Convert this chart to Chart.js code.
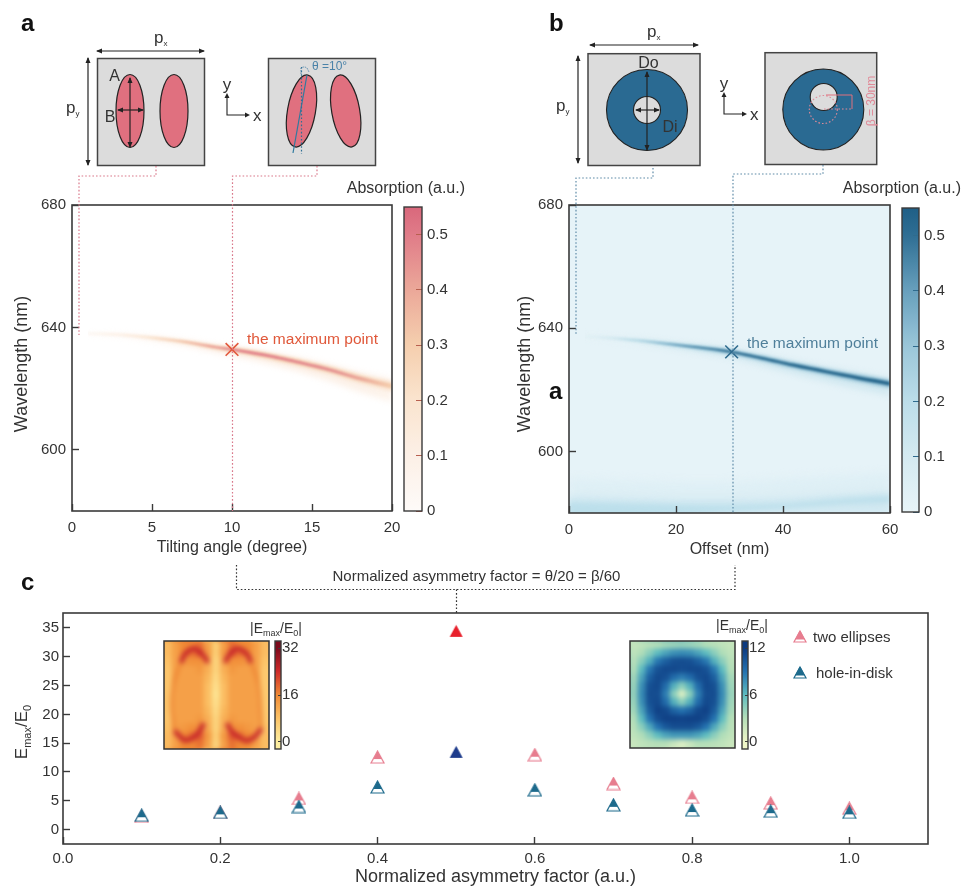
<!DOCTYPE html>
<html>
<head>
<meta charset="utf-8">
<title>Absorption and field enhancement</title>
<script src="https://cdn.jsdelivr.net/npm/chart.js@4"></script>
<style>
html,body{margin:0;padding:0;background:#fff;}
#page{position:relative;width:961px;height:887px;overflow:hidden;font-family:"Liberation Sans",Arial,sans-serif;}
#page canvas{position:absolute;}
.inset{position:absolute;overflow:hidden;}
#overlay{position:absolute;left:0;top:0;z-index:5;pointer-events:none;}
#overlay text{font-family:"Liberation Sans",Arial,sans-serif;fill:#333;}
</style>
</head>
<body>
<div id="page"></div>
<script>
/* ---- data ---- */
// panel a: ridge of the absorption map
const tiltAngle = [1,3,5,7,9,10,12,14,16,18,20];
const tiltWave  = [638,637.6,636.6,635.3,633.5,632.8,631,628.8,626.3,623.3,620.8];
const tiltAbs   = [0.05,0.12,0.22,0.34,0.44,0.5,0.5,0.48,0.46,0.4,0.3];
const tiltCore  = [0.15,0.2,0.25,0.3,0.35,0.4,0.45,0.5,0.55,0.65,0.8];
const tiltHalo  = [0.3,0.5,0.8,1,1.3,1.5,1.9,2.3,2.8,3.4,4];
const tiltMax   = [{x:10,y:632.8}];

// panel b: ridge of the absorption map
const offsetNm   = [3,8,13,18,24,30,36,42,48,54,60];
const offsetWave = [637.3,636.8,636,635,633.8,632.4,630.3,628,625.9,623.9,622];
const offsetAbs  = [0.04,0.12,0.24,0.36,0.46,0.52,0.52,0.52,0.52,0.52,0.52];
const offsetCore = [0.15,0.2,0.25,0.3,0.35,0.4,0.45,0.5,0.55,0.6,0.65];
const offsetHalo = [0.3,0.5,0.8,1,1.3,1.5,1.9,2.2,2.5,2.8,3];
const offsetMax  = [{x:30.4,y:632.3}];

// panel b: pale band along the bottom
const bandNm    = [0,10,20,30,40,50,60];
const bandOuter = [591,590.5,590,590,591,592,593];
const bandMid   = [585.5,585,584.5,584.5,585,586,587];
const bandHigh  = [583.5,583.2,582.8,582.5,583,584.5,585.5];
const bandLow   = [579,579,579.5,580.5,581.5,582.8,583.5];

// panel c
const asymFactor  = [0.1,0.2,0.3,0.4,0.5,0.6,0.7,0.8,0.9,1.0];
const twoEllipses = [2.3,3,5.4,12.6,34.5,13,8,5.6,4.6,3.7];
const holeInDisk  = [2.5,3,4,7.4,13.5,6.9,4.3,3.4,3.2,3];
const peakIndex   = 4;

// tick labels
const tickWave = [600,640,680];
const tickTilt = [0,5,10,15,20];
const tickOffset = [0,20,40,60];
const tickAbs = [0,0.1,0.2,0.3,0.4,0.5];
const tickAsym = [0,0.2,0.4,0.6,0.8,1];
const tickField = [0,5,10,15,20,25,30,35];
const tickFieldA = [0,16,32];
const tickFieldB = [0,6,12];

// colour maps
const absLevels = [0,0.1,0.2,0.3,0.4,0.5,0.55];
const absRed    = ["#fefbf9","#fcf0e6","#fae4cf","#f5cfae","#eba899","#e07c88","#d9687c"];
const absBlue   = ["#e8f4f8","#d4eaf1","#bcdde9","#9ac6d9","#68a0bd","#2f6f94","#1f5f86"];
const fieldLevelsA = [0,8,16,24,32];
const fieldColorsA = ["#fdeea0","#fcc468","#f08a35","#cf2a2a","#7d0a1c"];
const fieldLevelsB = [0,3,6,9,12];
const fieldColorsB = ["#eef5c8","#b6dfb8","#5ebcc0","#2472b0","#0d3a80"];

// inset field maps, 13x13, top row first
const fieldMapA = [
 [9,13,16,16,18,13,6,13,18,16,16,13,9],
 [9,13,16,18,20,14,6,14,20,18,16,13,9],
 [8,13,14,15,15,12,5,12,15,15,14,13,8],
 [7,13,13,13,14,11,5,11,14,13,13,13,7],
 [7,13,13,13,13,10,4,10,13,13,13,13,7],
 [7,13,13,13,13,9,3,9,13,13,13,13,7],
 [7,13,13,13,13,9,2,9,13,13,13,13,7],
 [7,13,13,13,13,9,3,9,13,13,13,13,7],
 [7,13,13,13,13,10,4,10,13,13,13,13,7],
 [7,13,13,13,14,11,5,11,14,13,13,13,7],
 [8,13,14,15,15,12,5,12,15,15,14,13,8],
 [9,13,16,18,20,14,6,14,20,18,16,13,9],
 [9,13,16,16,18,13,5,13,18,16,16,13,9]
];
const fieldMapB = [
 [2.2,2.5,2.8,3,3.5,3.8,4,3.8,3.5,3,2.8,2.5,2.2],
 [2.5,3.2,4.5,6,7,7.8,8,7.8,7,6,4.5,3.2,2.5],
 [2.8,4.5,6.5,8.8,10,10.8,11,10.8,10,8.8,6.5,4.5,2.8],
 [3,6,8.8,10.7,11.2,11.2,11,11.2,11.2,10.7,8.8,6,3],
 [3.5,7,10,11.2,10.8,9.3,8.5,9.3,10.8,11.2,10,7,3.5],
 [3.8,7.8,10.8,11.2,9.3,6.5,4.5,6.5,9.3,11.2,10.8,7.8,3.8],
 [4,8,11,11,8.5,4.5,1,4.5,8.5,11,11,8,4],
 [3.8,7.8,10.8,11.2,9.3,6.5,4.5,6.5,9.3,11.2,10.8,7.8,3.8],
 [3.5,7,10.2,11.6,11.2,9.8,9,9.8,11.2,11.6,10.2,7,3.5],
 [3,6,9,11,11.6,11.6,11.5,11.6,11.6,11,9,6,3],
 [2.8,4.5,6.8,9,10.4,11,11,11,10.4,9,6.8,4.5,2.8],
 [2.5,3.2,4.5,6,7,7.5,7.5,7.5,7,6,4.5,3.2,2.5],
 [2,2.5,2.8,3,3,2,1,2,3,3,2.8,2.5,2]
];
// arcs in the two-ellipse map (x, y across the inset, 0 to 1)
const arcTopLeft  = [{x:0.16,y:0.8},{x:0.21,y:0.89},{x:0.29,y:0.93},{x:0.37,y:0.87},{x:0.42,y:0.8}];
const arcTopRight = [{x:0.58,y:0.8},{x:0.625,y:0.875},{x:0.695,y:0.93},{x:0.785,y:0.885},{x:0.83,y:0.8}];
const arcLowLeft  = [{x:0.1,y:0.17},{x:0.19,y:0.085},{x:0.27,y:0.1},{x:0.34,y:0.17},{x:0.38,y:0.24}];
const arcLowRight = [{x:0.6,y:0.24},{x:0.64,y:0.17},{x:0.77,y:0.08},{x:0.85,y:0.1},{x:0.93,y:0.19}];
const arcSideLeft  = [{x:0.16,y:0.8},{x:0.09,y:0.6},{x:0.07,y:0.4},{x:0.1,y:0.17}];
const arcSideRight = [{x:0.83,y:0.8},{x:0.9,y:0.6},{x:0.92,y:0.4},{x:0.93,y:0.19}];

/* ---- helpers ---- */
const FONT = "'Liberation Sans', Arial, sans-serif";
const INK = "#3a3a3a";
Chart.defaults.font.family = FONT;
Chart.defaults.color = "#333";

function hex(c){ return [1,3,5].map(i=>parseInt(c.substr(i,2),16)); }
function colorAt(levels,colors,v){
  if(v<=levels[0]) return colors[0];
  for(let i=1;i<levels.length;i++){
    if(v<=levels[i]){
      const t=(v-levels[i-1])/(levels[i]-levels[i-1]), a=hex(colors[i-1]), b=hex(colors[i]);
      return "rgb("+a.map((p,k)=>Math.round(p+(b[k]-p)*t)).join(",")+")";
    }
  }
  return colors[colors.length-1];
}
function pts(xs,ys){ return xs.map((x,i)=>({x:x,y:ys[i]})); }

// colour running along a ridge, in scale pixels
function alongX(xs,vals,levels,colors){
  return c=>{
    const sx=c.chart.scales.x;
    if(!sx||!c.chart.chartArea) return colors[2];
    const g=c.chart.ctx.createLinearGradient(sx.left,0,sx.right,0);
    xs.forEach((x,i)=>g.addColorStop((x-sx.min)/(sx.max-sx.min),colorAt(levels,colors,vals[i])));
    return g;
  };
}
// colour bar fill, in scale pixels
function alongY(levels,colors){
  return c=>{
    const sy=c.chart.scales.y;
    if(!sy||!c.chart.chartArea) return colors[0];
    const g=c.chart.ctx.createLinearGradient(0,sy.bottom,0,sy.top);
    const range=sy.max-sy.min;
    for(let i=0;i<=40;i++){
      const v=sy.min+range*i/40;
      g.addColorStop(i/40,colorAt(levels,colors,v));
    }
    return g;
  };
}
// band between two curves, soft edge through dataset.blur
function band(upper,lower,color,blur){
  return [
    {data:upper,fill:"+1",backgroundColor:color,borderWidth:0,pointRadius:0,blur:blur},
    {data:lower,fill:false,borderWidth:0,pointRadius:0,blur:blur}
  ];
}

// the filler draws before a dataset's own hook, so each dataset sets the filter for the next one drawn
const softEdges = {
  id:"softEdges",
  beforeDatasetsDraw(chart){
    const ds=chart.data.datasets, last=ds[ds.length-1];
    chart.ctx.filter=last.blur?"blur("+last.blur+"px)":"none";
  },
  afterDatasetDraw(chart,args){
    const next=chart.data.datasets[args.index-1];
    chart.ctx.filter=next&&next.blur?"blur("+next.blur+"px)":"none";
  },
  afterDatasetsDraw(chart){ chart.ctx.filter="none"; }
};
// plot background + frame
const frame = {
  id:"frame",
  beforeDraw(chart,args,o){
    if(o.bg){ const a=chart.chartArea; chart.ctx.fillStyle=o.bg; chart.ctx.fillRect(a.left,a.top,a.right-a.left,a.bottom-a.top); }
  },
  afterDraw(chart,args,o){
    const a=chart.chartArea,ctx=chart.ctx;
    ctx.save(); ctx.strokeStyle=INK; ctx.lineWidth=o.width||1.6;
    ctx.strokeRect(a.left,a.top,a.right-a.left,a.bottom-a.top); ctx.restore();
  }
};

function linAxis(o){
  return {
    type:"linear",position:o.pos,min:o.min,max:o.max,
    afterBuildTicks:s=>{ s.ticks=o.ticks.map(v=>({value:v})); },
    afterFit:s=>{
      if(o.w!==undefined) s.width=o.w;
      if(o.h!==undefined) s.height=o.h;
      // plot box is placed by hand, no room for label overhang
      s.paddingLeft=s.paddingRight=s.paddingTop=s.paddingBottom=0;
    },
    border:{display:false},
    grid:{drawOnChartArea:false,drawTicks:true,tickLength:-(o.tick||7),tickWidth:o.tickW||1.4,tickColor:o.tickColor||INK,z:1},
    ticks:{maxRotation:0,autoSkip:false,padding:o.pad,font:{size:o.size||15},color:"#333",callback:o.fmt||(v=>String(v))},
    title:o.title?{display:true,text:o.title,font:{size:o.tsize||16},color:"#333",padding:{top:4,bottom:4}}:{display:false}
  };
}
// canvas laid out so the plot area lands on box {l,t,r,b}
function place(box,m,config){
  const c=document.createElement("canvas");
  const w=m.l+(box.r-box.l)+m.r, h=m.t+(box.b-box.t)+m.b;
  c.width=w; c.height=h;
  c.style.left=(box.l-m.l)+"px"; c.style.top=(box.t-m.t)+"px";
  document.getElementById("page").appendChild(c);
  const padR=m.axisRight?0:m.r, padL=m.barLeft?m.l:0, padB=m.barLeft?m.b:0;
  config.options=Object.assign({responsive:false,animation:false,events:[],
    layout:{autoPadding:false,padding:{top:m.t,right:padR,left:padL,bottom:padB}}},config.options);
  return new Chart(c,config);
}
function mapChart(box,m,xOpt,yOpt,datasets,bg){
  return place(box,m,{type:"line",data:{datasets:datasets},plugins:[softEdges,frame],options:{
    plugins:{legend:{display:false},tooltip:{enabled:false},frame:{bg:bg}},
    elements:{line:{tension:0.3}},
    scales:{x:linAxis(xOpt),y:linAxis(yOpt)}
  }});
}
function colorBar(box,m,levels,colors,min,max,ticks,fmt,tickLen,pad,size,tickColor){
  const mm=Object.assign({axisRight:true,barLeft:true},m);
  return place(box,mm,{type:"bar",data:{labels:[""],datasets:[{data:[[min,max]],backgroundColor:alongY(levels,colors),categoryPercentage:1,barPercentage:1}]},plugins:[frame],options:{
    plugins:{legend:{display:false},tooltip:{enabled:false},frame:{width:1.4}},
    scales:{x:{display:false},y:linAxis({pos:"right",min:min,max:max,ticks:ticks,w:m.r,pad:pad,fmt:fmt,tick:tickLen,size:size,tickColor:tickColor,tickW:1})}
  }});
}
function ridgeSets(xs,wave,abs,core,halo,levels,colors,maxPt,markColor){
  const c1=alongX(xs,abs,levels,colors);
  const c2=alongX(xs,abs.map(v=>v*0.55),levels,colors);
  const c3=alongX(xs,abs.map(v=>v*0.22),levels,colors);
  return [
    {data:maxPt,showLine:false,pointStyle:"crossRot",pointRadius:9,pointBorderWidth:1.6,pointBorderColor:markColor,pointBackgroundColor:"transparent"},
    ...band(pts(xs,wave.map((w,i)=>w+core[i])),pts(xs,wave.map((w,i)=>w-core[i])),c1,0.8),
    ...band(pts(xs,wave.map((w,i)=>w+core[i]*2.2)),pts(xs,wave.map((w,i)=>w-core[i]*2.4)),c2,1.5),
    ...band(pts(xs,wave.map((w,i)=>w+halo[i]*0.6)),pts(xs,wave.map((w,i)=>w-halo[i]*1.3)),c3,3)
  ];
}
const fmtAbs = v=>v===0?"0":v.toFixed(1);

/* ---- panel a ---- */
mapChart({l:72,t:205,r:392,b:511},{l:64,t:12,r:14,b:50},
  {pos:"bottom",min:0,max:20,ticks:tickTilt,h:50,pad:15,title:"Tilting angle (degree)"},
  {pos:"left",min:580,max:680,ticks:tickWave,w:64,pad:13},
  ridgeSets(tiltAngle,tiltWave,tiltAbs,tiltCore,tiltHalo,absLevels,absRed,tiltMax,"#e2583c"),"#ffffff");
colorBar({l:404,t:207,r:422,b:511},{l:2,t:10,r:40,b:10},absLevels,absRed,0,0.55,tickAbs,fmtAbs,6,11,15,"#b8604f");

/* ---- panel b ---- */
mapChart({l:569,t:205,r:890,b:513},{l:58,t:12,r:10,b:50},
  {pos:"bottom",min:0,max:60,ticks:tickOffset,h:50,pad:15,title:"Offset (nm)"},
  {pos:"left",min:580,max:680,ticks:tickWave,w:58,pad:13},
  [...ridgeSets(offsetNm,offsetWave,offsetAbs,offsetCore,offsetHalo,absLevels,absBlue,offsetMax,"#2f6b8e"),
   ...band(pts(bandNm,bandHigh),pts(bandNm,bandLow),"#bcdfeb",2.5),
   {data:pts(bandNm,bandMid),fill:"start",backgroundColor:"#d0e8f1",borderWidth:0,pointRadius:0,blur:3},
   {data:pts(bandNm,bandOuter),fill:"start",backgroundColor:"#deeff5",borderWidth:0,pointRadius:0,blur:4}],
  "#e6f3f8");
colorBar({l:902,t:208,r:919,b:512},{l:2,t:10,r:40,b:10},absLevels,absBlue,0,0.55,tickAbs,fmtAbs,6,11,15,"#2f6b8e");

/* ---- panel c ---- */
function triangleIcon(color,solid){
  const c=document.createElement("canvas"); c.width=15; c.height=14;
  const x=c.getContext("2d");
  x.beginPath(); x.moveTo(7.5,1); x.lineTo(14,13); x.lineTo(1,13); x.closePath();
  x.fillStyle=solid?color:"#ffffff"; x.fill();
  if(!solid){
    x.save(); x.clip(); x.fillStyle=color; x.fillRect(0,0,15,9); x.restore();
    x.strokeStyle=color; x.lineWidth=1.2; x.stroke();
  }
  return c;
}
const PINK="#e77d8f", BLUE="#1d6a8c";
const pinkIcon=triangleIcon(PINK,false), blueIcon=triangleIcon(BLUE,false);
const redIcon=triangleIcon("#e8202c",true), navyIcon=triangleIcon("#1e3c8c",true);
const scatterSet=(ys,icon,peak)=>({
  data:pts(asymFactor,ys),showLine:false,
  pointStyle:c=>c.dataIndex===peakIndex?peak:icon,pointRadius:7
});
place({l:63,t:613,r:928,b:844},{l:50,t:12,r:20,b:48},{type:"line",
  data:{datasets:[scatterSet(holeInDisk,blueIcon,navyIcon),scatterSet(twoEllipses,pinkIcon,redIcon)]},
  plugins:[frame],
  options:{
    plugins:{legend:{display:false},tooltip:{enabled:false}},
    scales:{
      x:linAxis({pos:"bottom",min:0,max:1.1,ticks:tickAsym,h:48,pad:13,title:"Normalized asymmetry factor (a.u.)",tsize:18,fmt:v=>v.toFixed(1)}),
      y:linAxis({pos:"left",min:-2.5,max:37.6,ticks:tickField,w:50,pad:11})
    }
  }
});

// inset maps, soft canvas inside a clipped box
function insetMap(box,matrix,levels,colors,lines){
  const W=box.r-box.l,H=box.b-box.t,bleed=10,n=matrix.length;
  const div=document.createElement("div"); div.className="inset";
  div.style.cssText="left:"+box.l+"px;top:"+box.t+"px;width:"+W+"px;height:"+H+"px;z-index:2;";
  document.getElementById("page").appendChild(div);
  const c=document.createElement("canvas");
  c.width=W+2*bleed; c.height=H+2*bleed;
  c.style.cssText="left:"+(-bleed)+"px;top:"+(-bleed)+"px;filter:blur(2.5px);";
  div.appendChild(c);
  const cells=[];
  matrix.forEach((row,j)=>row.forEach((v,i)=>cells.push({x:(i+0.5)/n,y:1-(j+0.5)/n,v:v})));
  const half=Math.max(W,H)/n/2+0.6;
  const cellColor=p=>colorAt(levels,colors,p.raw.v);
  new Chart(c,{type:"scatter",data:{datasets:[
    ...lines,
    {data:cells,pointStyle:"rect",pointRadius:half*Math.SQRT2,pointBackgroundColor:cellColor,pointBorderWidth:0},
    {data:cells,pointStyle:"rect",pointRadius:(half+bleed)*Math.SQRT2,pointBackgroundColor:cellColor,pointBorderWidth:0}
  ]},options:{responsive:false,animation:false,events:[],
    layout:{autoPadding:false,padding:0},
    plugins:{legend:{display:false},tooltip:{enabled:false}},
    scales:{
      x:{display:false,min:-bleed/W,max:1+bleed/W},
      y:{display:false,min:-bleed/H,max:1+bleed/H}
    }
  }});
}
const arcSet=(data,color,width)=>({data:data,showLine:true,tension:0.4,borderColor:color,borderWidth:width,pointRadius:0});
insetMap({l:164,t:641,r:269,b:749},fieldMapA,fieldLevelsA,fieldColorsA,[
  arcSet(arcTopLeft,"#c4202a",4.5),arcSet(arcTopRight,"#c4202a",4.5),
  arcSet(arcLowLeft,"#c4202a",4.5),arcSet(arcLowRight,"#c4202a",4.5),
  arcSet(arcSideLeft,"#ec7f30",2.5),arcSet(arcSideRight,"#ec7f30",2.5)
]);
insetMap({l:630,t:641,r:735,b:748},fieldMapB,fieldLevelsB,fieldColorsB,[]);
function zBar(ch){ ch.canvas.style.zIndex=3; }
zBar(colorBar({l:275,t:641,r:281,b:749},{l:2,t:4,r:30,b:4},fieldLevelsA,fieldColorsA,-2.4,34.4,tickFieldA,String,3,4,15));
zBar(colorBar({l:742,t:641,r:748,b:749},{l:2,t:4,r:30,b:4},fieldLevelsB,fieldColorsB,-0.9,12.9,tickFieldB,String,3,4,15));

/* ---- labels and schematics, page overlay ---- */
const SVG_NS="http://www.w3.org/2000/svg";
const RED_DOT="#d9788a", BLUE_DOT="#5f8ca8";
const sub=(a,b,size)=>`${a}<tspan dy="3" font-size="${size}">${b}</tspan>`;
const arrowLine=(x1,y1,x2,y2)=>`<line x1="${x1}" y1="${y1}" x2="${x2}" y2="${y2}" stroke="#222" stroke-width="1.2" marker-start="url(#ah)" marker-end="url(#ah)"/>`;
const dotted=(d,color)=>`<path d="${d}" fill="none" stroke="${color}" stroke-width="1.2" stroke-dasharray="1.6 2"/>`;
const axesXY=(x,y)=>`<path d="M${x} ${y-19}V${y}H${x+20}" fill="none" stroke="#222" stroke-width="1.1"/>
  <path d="M${x} ${y-22}l-2.5 5h5z M${x+23} ${y}l-5 -2.5v5z" fill="#222"/>
  <text x="${x}" y="${y-25}" text-anchor="middle" font-size="17">y</text>
  <text x="${x+26}" y="${y+6}" font-size="17">x</text>`;
const legendTri=(x,y,c)=>`<path d="M${x} ${y-6}L${x+6} ${y+5}H${x-6}Z" fill="#fff" stroke="${c}" stroke-width="1.2"/><path d="M${x} ${y-6}L${x+3.6} ${y+1}H${x-3.6}Z M${x-3.6} ${y+1}H${x+3.6}L${x+4.2} ${y+2}H${x-4.2}Z" fill="${c}" stroke="${c}" stroke-width="1"/>`;

const overlay=document.createElementNS(SVG_NS,"svg");
overlay.setAttribute("id","overlay");
overlay.setAttribute("width","961"); overlay.setAttribute("height","887");
overlay.innerHTML=`
<defs><marker id="ah" viewBox="0 0 6 6" refX="5" refY="3" markerWidth="5" markerHeight="5" orient="auto-start-reverse"><path d="M0 0.5L6 3L0 5.5z" fill="#222"/></marker></defs>

<text x="21" y="31" font-size="24" font-weight="bold" style="fill:#111">a</text>
<text x="549" y="31" font-size="24" font-weight="bold" style="fill:#111">b</text>
<text x="21" y="590" font-size="24" font-weight="bold" style="fill:#111">c</text>
<text x="549" y="399" font-size="24" font-weight="bold" style="fill:#111">a</text>

<text transform="rotate(-90 27 364)" x="27" y="364" text-anchor="middle" font-size="18">Wavelength (nm)</text>
<text transform="rotate(-90 530 364)" x="530" y="364" text-anchor="middle" font-size="18">Wavelength (nm)</text>

<!-- a, schematics -->
<rect x="97.5" y="58.5" width="107" height="107" fill="#dcdcdc" stroke="#444" stroke-width="1.5"/>
<ellipse cx="130" cy="111" rx="14" ry="36.5" fill="#e0707f" stroke="#222" stroke-width="1.2"/>
<ellipse cx="174" cy="111" rx="14" ry="36.5" fill="#e0707f" stroke="#222" stroke-width="1.2"/>
${arrowLine(130,78,130,147)}${arrowLine(118,110,143,110)}
<text x="114.5" y="81" text-anchor="middle" font-size="16">A</text>
<text x="110" y="122" text-anchor="middle" font-size="16">B</text>
${arrowLine(97,51,204,51)}${arrowLine(88,58,88,165)}
<text x="154" y="43" font-size="17">${sub("p","x",8)}</text>
<text x="66" y="113" font-size="17">${sub("p","y",8)}</text>
${axesXY(227,115)}
<rect x="268.5" y="58.5" width="107" height="107" fill="#dcdcdc" stroke="#444" stroke-width="1.5"/>
<ellipse cx="301.5" cy="111" rx="14" ry="36.5" fill="#e0707f" stroke="#222" stroke-width="1.2" transform="rotate(10 301.5 111)"/>
<ellipse cx="345.7" cy="111" rx="14" ry="36.5" fill="#e0707f" stroke="#222" stroke-width="1.2" transform="rotate(-10 345.7 111)"/>
<line x1="307" y1="75" x2="293" y2="153" stroke="#2f7a9f" stroke-width="1.2"/>
${dotted("M301.5 67V154","#2f6f94")}
<path d="M301 74V68q3 -2 6 0 l2 4" fill="none" stroke="#4a82a8" stroke-width="0.9" stroke-dasharray="1.5 1"/>
<text x="312" y="70" font-size="12" style="fill:#4a82a8">θ =10°</text>
${dotted("M156 166V176H79V335",RED_DOT)}
${dotted("M317 166V176H232.5V511",RED_DOT)}
<text x="465" y="193" text-anchor="end" font-size="16">Absorption (a.u.)</text>
<text x="247" y="344" font-size="15.5" style="fill:#e0583a">the maximum point</text>

<!-- b, schematics -->
<rect x="588" y="53.7" width="112" height="111.8" fill="#dcdcdc" stroke="#444" stroke-width="1.5"/>
<circle cx="647" cy="110" r="40.5" fill="#2a6a92" stroke="#222" stroke-width="1.1"/>
<circle cx="647" cy="110" r="13.5" fill="#dcdcdc" stroke="#222" stroke-width="1.1"/>
${arrowLine(647,72,647,150)}${arrowLine(636,110,659,110)}
<text x="648.5" y="68" text-anchor="middle" font-size="16">Do</text>
<text x="670" y="132" text-anchor="middle" font-size="16">Di</text>
${arrowLine(590,45,698,45)}${arrowLine(578,56,578,163)}
<text x="647" y="37" font-size="17">${sub("p","x",8)}</text>
<text x="556" y="111" font-size="17">${sub("p","y",8)}</text>
${axesXY(724,114)}
<rect x="765" y="52.7" width="111.7" height="111.8" fill="#dcdcdc" stroke="#444" stroke-width="1.5"/>
<circle cx="823.3" cy="109.5" r="40.5" fill="#2a6a92" stroke="#222" stroke-width="1.1"/>
<circle cx="823.7" cy="97" r="13.5" fill="#dcdcdc" stroke="#222" stroke-width="1.1"/>
<circle cx="823.3" cy="109.5" r="14" fill="none" stroke="#e08a98" stroke-width="1.1" stroke-dasharray="1.6 2"/>
<path d="M826 95H852V109" fill="none" stroke="#e0707f" stroke-width="1"/>
${dotted("M824 109H851","#e08a98")}
<text x="875" y="101" text-anchor="middle" font-size="12" transform="rotate(-90 875 101)" style="fill:#e08a98">β = 30nm</text>
${dotted("M653 168V178H576V335",BLUE_DOT)}
${dotted("M823 165V174H733V513",BLUE_DOT)}
<text x="961" y="193" text-anchor="end" font-size="16">Absorption (a.u.)</text>
<text x="747" y="348" font-size="15.5" style="fill:#4f7f9a">the maximum point</text>

<!-- c -->
${dotted("M236.5 565V589.5H735V565","#333")}
${dotted("M456.5 589.5V613","#333")}
<text x="476.5" y="581" text-anchor="middle" font-size="15">Normalized asymmetry factor = θ/20 = β/60</text>
<text transform="rotate(-90 27 732)" x="27" y="732" text-anchor="middle" font-size="17">E<tspan dy="4" font-size="11">max</tspan><tspan dy="-4">/E</tspan><tspan dy="4" font-size="11">0</tspan></text>
<text x="276" y="633" text-anchor="middle" font-size="14">|E<tspan dy="3" font-size="9">max</tspan><tspan dy="-3">/E</tspan><tspan dy="3" font-size="9">0</tspan><tspan dy="-3">|</tspan></text>
<text x="742" y="630" text-anchor="middle" font-size="14">|E<tspan dy="3" font-size="9">max</tspan><tspan dy="-3">/E</tspan><tspan dy="3" font-size="9">0</tspan><tspan dy="-3">|</tspan></text>
<rect x="164" y="641" width="105" height="108" fill="none" stroke="#333" stroke-width="1.5"/>
<rect x="630" y="641" width="105" height="107" fill="none" stroke="#333" stroke-width="1.5"/>
${legendTri(800,637,PINK)}
<text x="813" y="642" font-size="15">two ellipses</text>
${legendTri(800,673,BLUE)}
<text x="816" y="678" font-size="15">hole-in-disk</text>
`;
document.getElementById("page").appendChild(overlay);
</script>
</body>
</html>
